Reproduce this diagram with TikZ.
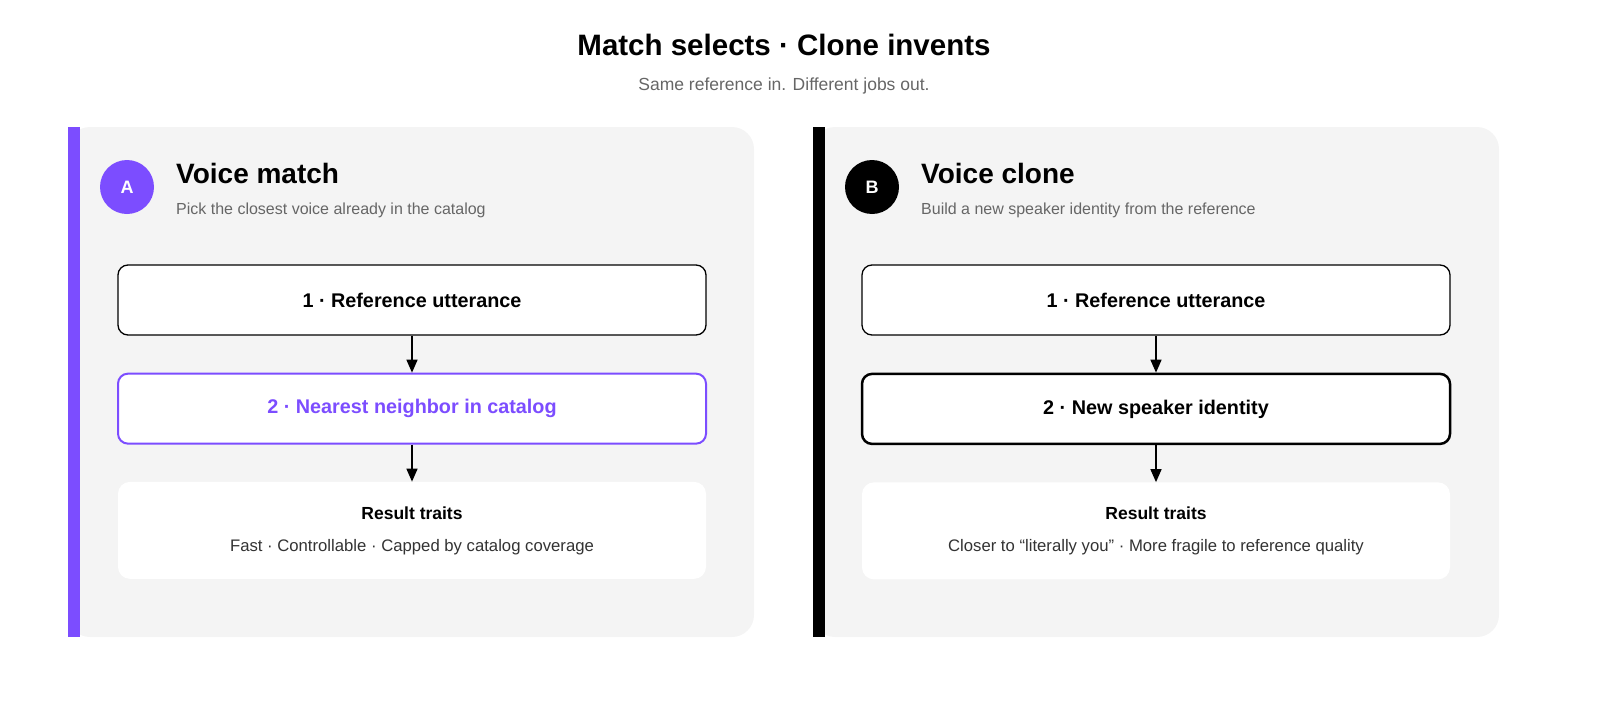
\documentclass[tikz,border=0pt]{standalone}
\usepackage{fontspec}
\setmainfont{Liberation Sans}
\usetikzlibrary{arrows.meta,positioning}
\definecolor{vpurple}{HTML}{7C4DFF}
\definecolor{panelgray}{HTML}{F4F4F4}
\definecolor{subgray}{HTML}{666666}
\definecolor{textgray}{HTML}{333333}

\begin{document}
\begin{tikzpicture}[x=1pt,y=-1pt,>={Triangle[width=11pt,length=13pt]},
    panel/.style={fill=panelgray,rounded corners=22pt},
    badge/.style={circle,minimum size=54pt,inner sep=0pt,text=white,font=\fontsize{18}{20}\selectfont\bfseries},
    heading/.style={anchor=base west,inner sep=0pt,font=\fontsize{28}{32}\selectfont\bfseries},
    subline/.style={anchor=base west,inner sep=0pt,text=subgray,font=\fontsize{16}{19}\selectfont},
    stepbox/.style={draw,fill=white,rounded corners=10pt,minimum width=588pt,minimum height=70pt,inner sep=0pt,font=\fontsize{19.8}{23}\selectfont\bfseries},
    resbox/.style={fill=white,rounded corners=12pt,minimum width=588pt,minimum height=97pt,inner sep=0pt},
    flow/.style={->,line width=1.5pt}]

  \useasboundingbox (0,0) rectangle (1600,720);

  % title
  \node[inner sep=0pt,anchor=base,font=\fontsize{29.5}{34}\selectfont\bfseries] (title) at (784,55) {Match selects · Clone invents};
  \node[inner sep=0pt,anchor=base,text=subgray,font=\fontsize{17.5}{20}\selectfont] (subtitle) at (784,90) {Same reference in. Different jobs out.};

  % panel A
  \fill[panel] (68,127) rectangle (754,637);
  \fill[vpurple] (68,127) rectangle (80,637);
  \node[badge,fill=vpurple] (badgeA) at (127,187) {A};
  \node[heading] (headA) at (176,183) {Voice match};
  \node[subline] (subA) at (176,214) {Pick the closest voice already in the catalog};

  \node[stepbox,line width=1.3pt] (refA) at (412,300) {1 · Reference utterance};
  \node[stepbox,draw=vpurple,text=vpurple,line width=2pt,below=37pt of refA] (nearA) {2 · Nearest neighbor in catalog};
  \node[resbox,below=37pt of nearA] (resA) {};
  \node[inner sep=0pt,anchor=base,font=\fontsize{17.5}{20}\selectfont\bfseries] (resAt) at (412,519) {Result traits};
  \node[inner sep=0pt,anchor=base,text=textgray,font=\fontsize{16.7}{19}\selectfont] (resAd) at (412,551) {Fast · Controllable · Capped by catalog coverage};

  \draw[flow] (refA) -- (nearA);
  \draw[flow] (nearA) -- (resA);

  % panel B
  \fill[panel] (813,127) rectangle (1499,637);
  \fill[black] (813,127) rectangle (825,637);
  \node[badge,fill=black] (badgeB) at (872,187) {B};
  \node[heading] (headB) at (921,183) {Voice clone};
  \node[subline] (subB) at (921,214) {Build a new speaker identity from the reference};

  \node[stepbox,line width=1.3pt] (refB) at (1156,300) {1 · Reference utterance};
  \node[stepbox,line width=2.5pt,below=37pt of refB] (newB) {2 · New speaker identity};
  \node[resbox,below=37pt of newB] (resB) {};
  \node[inner sep=0pt,anchor=base,font=\fontsize{17.5}{20}\selectfont\bfseries] (resBt) at (1156,519) {Result traits};
  \node[inner sep=0pt,anchor=base,text=textgray,font=\fontsize{16.7}{19}\selectfont] (resBd) at (1156,551) {Closer to “literally you” · More fragile to reference quality};

  \draw[flow] (refB) -- (newB);
  \draw[flow] (newB) -- (resB);
\end{tikzpicture}
\end{document}
